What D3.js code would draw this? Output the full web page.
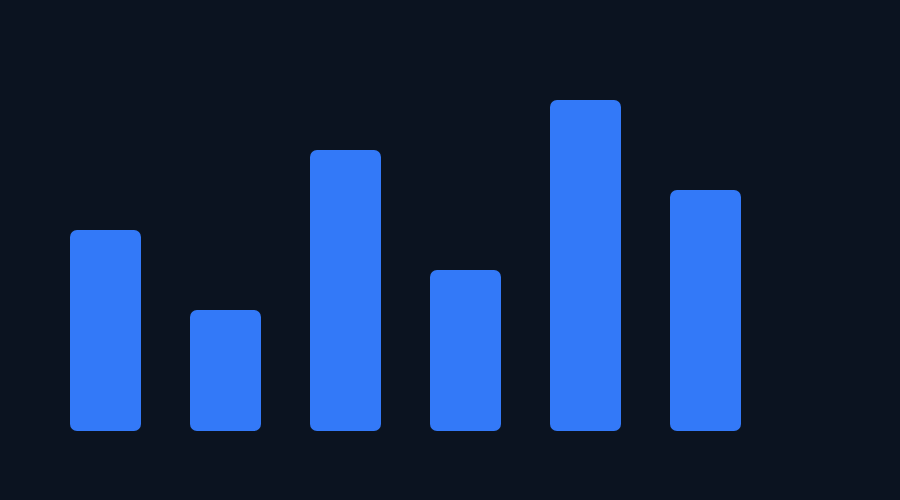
<!DOCTYPE html>
<html>
<head>
<meta charset="utf-8">
<script src="https://cdn.jsdelivr.net/npm/d3@7"></script>
<style>
  html, body { margin: 0; padding: 0; background: #0b1320; }
  svg { display: block; }
</style>
</head>
<body>
<svg id="chart"></svg>
<script>
const categories = ['A', 'B', 'C', 'D', 'E', 'F'];
const values = [200, 120, 280, 160, 330, 240];

const w = 900;
const h = 500;
const svg = d3.select('#chart').attr('width', w).attr('height', h);

svg.append('rect')
  .attr('width', w)
  .attr('height', h)
  .attr('fill', '#0b1320');

const x = d3.scaleBand()
  .domain(categories)
  .range([20, 790])
  .padding(50 / 120);

const y = d3.scaleLinear()
  .domain([0, 400])
  .range([430, 30]);

svg.append('g')
  .selectAll('rect')
  .data(values)
  .join('rect')
  .attr('x', (d, i) => x(categories[i]))
  .attr('y', d => y(d))
  .attr('width', x.bandwidth() + 1)
  .attr('height', d => y(0) - y(d) + 1)
  .attr('rx', 7)
  .attr('ry', 7)
  .attr('fill', '#3379f8');
</script>
</body>
</html>
